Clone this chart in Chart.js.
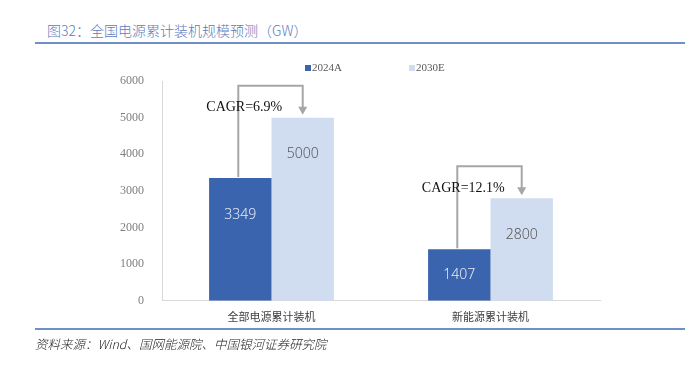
<!DOCTYPE html>
<html>
<head>
<meta charset="utf-8">
<script src="https://cdn.jsdelivr.net/npm/chart.js@4.4.1/dist/chart.umd.min.js"></script>
<style>
    html, body { margin: 0; padding: 0; background: #fff; }
    #wrap { position: relative; width: 700px; height: 365px; overflow: hidden; }
    #chart { position: absolute; left: 0; top: 0; }
    .title {
        position: absolute; left: 47px; top: 20px;
        font: 14px "Noto Sans CJK SC", sans-serif; font-weight: 300;
        color: #5b7bbd; white-space: nowrap;
    }
    .rule { position: absolute; left: 35px; width: 650px; height: 2px; background: #6f8fc7; }
    .source {
        position: absolute; left: 35px; top: 334px;
        font: italic 12.5px "Noto Sans CJK SC", sans-serif; font-weight: 300;
        color: #222; white-space: nowrap;
    }
</style>
</head>
<body>
<div id="wrap">
    <div class="title">图32：全国电源累计装机规模预测（GW）</div>
    <div class="rule" style="top:42px"></div>
    <canvas id="chart" width="700" height="365"></canvas>
    <div class="rule" style="top:328px"></div>
    <div class="source">资料来源：Wind、国网能源院、中国银河证券研究院</div>
</div>
<script>
/* ============================================
   DATA
============================================ */
const categories = ['全部电源累计装机', '新能源累计装机'];
const seriesNames = ['2024A', '2030E'];
const values2024 = [3349, 1407];
const values2030 = [5000, 2800];
const cagrLabels = ['CAGR=6.9%', 'CAGR=12.1%'];
const yTicks = [0, 1000, 2000, 3000, 4000, 5000, 6000];

const DARK = '#3b64ae';
const LIGHT = '#d0ddf1';
const GREY_LINE = '#a6a6a6';

/* ============================================
   PLUGINS
============================================ */
// legend drawn by hand so it doesn't eat layout space
const topLegend = {
    id: 'topLegend',
    afterDraw(chart) {
        const ctx = chart.ctx;
        const area = chart.chartArea;
        const mid = (area.left + area.right) / 2;
        const starts = [mid - 76, mid + 28];
        const colors = [DARK, LIGHT];
        ctx.save();
        ctx.font = '11px "Liberation Serif", serif';
        ctx.textBaseline = 'middle';
        ctx.textAlign = 'left';
        seriesNames.forEach((name, i) => {
            ctx.fillStyle = colors[i];
            ctx.fillRect(starts[i], area.top - 16, 6, 6);
            ctx.fillStyle = '#595959';
            ctx.fillText(name, starts[i] + 7, area.top - 13);
        });
        ctx.restore();
    }
};

// value labels inside bars
const barLabels = {
    id: 'barLabels',
    afterDatasetsDraw(chart) {
        const ctx = chart.ctx;
        const y = chart.scales.y;
        ctx.save();
        ctx.font = '300 14px "Noto Sans", sans-serif';
        ctx.textAlign = 'center';
        ctx.textBaseline = 'middle';
        chart.data.datasets.forEach((ds, di) => {
            const meta = chart.getDatasetMeta(di);
            ds.data.forEach((v, i) => {
                const bar = meta.data[i];
                // near the top for tall bars, centred for short ones
                const pos = Math.max(v - 1000, v / 2);
                ctx.fillStyle = di === 0 ? '#e6ebf5' : '#595959';
                ctx.fillText(String(v), bar.x, y.getPixelForValue(pos));
            });
        });
        ctx.restore();
    }
};

// CAGR bracket arrows
const cagrBrackets = {
    id: 'cagrBrackets',
    afterDatasetsDraw(chart) {
        const ctx = chart.ctx;
        const m0 = chart.getDatasetMeta(0);
        const m1 = chart.getDatasetMeta(1);
        ctx.save();
        categories.forEach((c, i) => {
            const a = m0.data[i];
            const b = m1.data[i];
            const x1 = a.x - 2;
            const x2 = b.x;
            const top = b.y - 32;
            const tip = b.y - 3;
            ctx.strokeStyle = GREY_LINE;
            ctx.lineWidth = 2;
            ctx.beginPath();
            ctx.moveTo(x1, a.y - 1);
            ctx.lineTo(x1, top);
            ctx.lineTo(x2, top);
            ctx.lineTo(x2, tip - 7);
            ctx.stroke();
            ctx.fillStyle = GREY_LINE;
            ctx.beginPath();
            ctx.moveTo(x2 - 4.5, tip - 8);
            ctx.lineTo(x2 + 4.5, tip - 8);
            ctx.lineTo(x2, tip);
            ctx.closePath();
            ctx.fill();

            ctx.fillStyle = '#111';
            ctx.font = '14px "Liberation Serif", serif';
            ctx.textAlign = 'center';
            ctx.textBaseline = 'middle';
            ctx.fillText(cagrLabels[i], x1 + 6, top + 22);
        });
        ctx.restore();
    }
};

/* ============================================
   CHART
============================================ */
new Chart(document.getElementById('chart').getContext('2d'), {
    type: 'bar',
    data: {
        labels: categories,
        datasets: [
            { label: seriesNames[0], data: values2024, backgroundColor: DARK },
            { label: seriesNames[1], data: values2030, backgroundColor: LIGHT }
        ]
    },
    options: {
        responsive: false,
        animation: false,
        devicePixelRatio: 1,
        barPercentage: 1,
        categoryPercentage: 0.57,
        layout: { padding: { left: 100, right: 100, top: 81, bottom: 33 } },
        plugins: {
            legend: { display: false },
            tooltip: { enabled: false }
        },
        scales: {
            x: {
                grid: { display: false, drawTicks: false },
                border: { color: '#d9d9d9', width: 1 },
                ticks: {
                    color: '#404040',
                    padding: 9,
                    font: { family: '"Noto Sans CJK SC", sans-serif', size: 11 }
                }
            },
            y: {
                min: 0,
                max: 6000,
                afterBuildTicks: s => { s.ticks = yTicks.map(v => ({ value: v })); },
                afterFit: s => { s.width = 62; },
                grid: { display: false },
                border: { color: '#d9d9d9', width: 1 },
                ticks: {
                    color: '#7f7f7f',
                    padding: 10,
                    callback: v => String(v),
                    font: { family: '"Liberation Serif", serif', size: 12 }
                }
            }
        }
    },
    plugins: [barLabels, cagrBrackets, topLegend]
});
</script>
</body>
</html>
